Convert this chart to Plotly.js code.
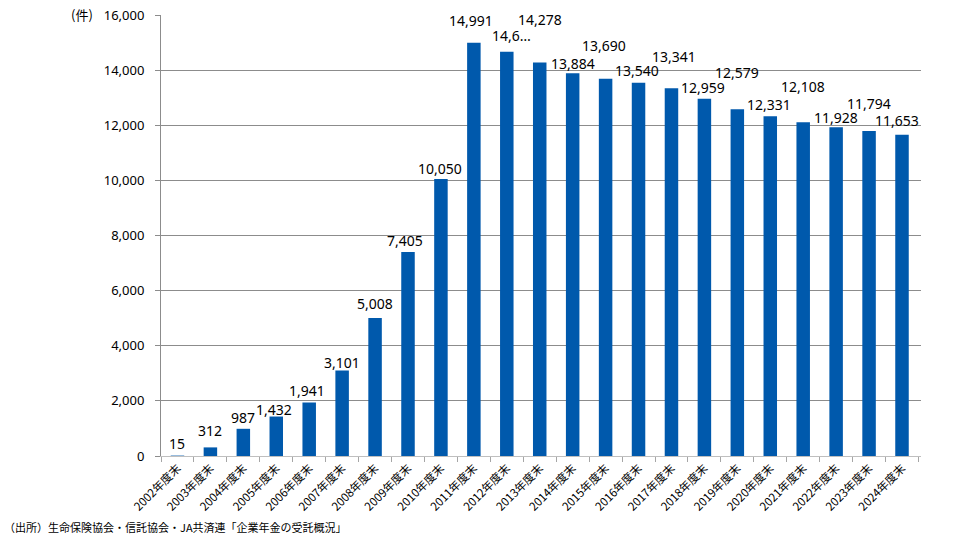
<!DOCTYPE html>
<html>
<head>
<meta charset="utf-8">
<script src="https://cdn.plot.ly/plotly-3.0.1.min.js"></script>
<style>
  html, body { margin: 0; padding: 0; background: #fff; }
  #chart { width: 953px; height: 537px; }
</style>
</head>
<body>
<div id="chart"></div>
<script>
// 年度末の件数
var years = ['2002年度末', '2003年度末', '2004年度末', '2005年度末', '2006年度末', '2007年度末',
  '2008年度末', '2009年度末', '2010年度末', '2011年度末', '2012年度末', '2013年度末',
  '2014年度末', '2015年度末', '2016年度末', '2017年度末', '2018年度末', '2019年度末',
  '2020年度末', '2021年度末', '2022年度末', '2023年度末', '2024年度末'];
var counts = [15, 312, 987, 1432, 1941, 3101, 5008, 7405, 10050, 14991, 14670, 14278,
  13884, 13690, 13540, 13341, 12959, 12579, 12331, 12108, 11928, 11794, 11653];
// the 2012 label is cut off in the original
var labelTexts = ['15', '312', '987', '1,432', '1,941', '3,101', '5,008', '7,405', '10,050',
  '14,991', '14,6…', '14,278', '13,884', '13,690', '13,540', '13,341', '12,959', '12,579',
  '12,331', '12,108', '11,928', '11,794', '11,653'];

// label placement (pixels), staggered like the original
var shiftY = [12, 17, 11, 7, 12, 8, 14, 11, 11, 22, 16, 43, 10, 33, 12, 32, 11, 37, 12, 36, 10, 27, 14];
var shiftX = [0, 0, 0, -2, -2, 0, 0, -3, -1, -3, 5, 0, 0, -2, -2, 3, -1, 0, -1, 0, 0, 0, -5];

var numFont = 'Noto Sans, Open Sans, sans-serif';
var jpFont = 'Noto Sans CJK JP, sans-serif';

var trace = {
  type: 'bar',
  x: years,
  y: counts,
  marker: { color: '#0059AC' },
  hoverinfo: 'x+y'
};

var annotations = [];
for (var i = 0; i < years.length; i++) {
  annotations.push({
    x: years[i],
    y: counts[i],
    xref: 'x',
    yref: 'y',
    text: labelTexts[i],
    showarrow: false,
    yanchor: 'middle',
    xanchor: 'center',
    yshift: shiftY[i],
    xshift: shiftX[i],
    font: { family: numFont, size: 14, color: '#000' }
  });
}

annotations.push({
  xref: 'paper', yref: 'paper', x: -0.104, y: 1.0, yshift: 1,
  xanchor: 'center', yanchor: 'middle',
  text: '(件)', showarrow: false,
  font: { family: jpFont, size: 13, color: '#000' }
});

annotations.push({
  xref: 'paper', yref: 'paper', x: -0.209, y: 0, yshift: -71,
  xanchor: 'left', yanchor: 'middle',
  text: '（出所）生命保険協会・信託協会・JA共済連「企業年金の受託概況」', showarrow: false,
  font: { family: jpFont, size: 11, color: '#000' }
});

var layout = {
  width: 953,
  height: 537,
  margin: { l: 161, r: 32, t: 15, b: 81 },
  paper_bgcolor: '#fff',
  plot_bgcolor: '#fff',
  showlegend: false,
  bargap: 0.59,
  xaxis: {
    type: 'category',
    tickangle: -45,
    ticks: 'outside',
    tickson: 'boundaries',
    ticklen: 5,
    tickcolor: '#A6A6A6',
    showline: true,
    linecolor: '#BFBFBF',
    linewidth: 1,
    showgrid: false,
    tickfont: { family: jpFont, size: 11.5, color: '#000' }
  },
  yaxis: {
    range: [0, 16000],
    dtick: 2000,
    tickformat: ',',
    ticks: 'outside',
    ticklen: 5,
    tickcolor: '#8C8C8C',
    ticklabelstandoff: 8,
    showline: true,
    linecolor: '#8C8C8C',
    linewidth: 1,
    showgrid: true,
    gridcolor: '#8C8C8C',
    gridwidth: 1,
    zeroline: false,
    tickfont: { family: numFont, size: 13, color: '#000' }
  },
  annotations: annotations
};

Plotly.newPlot('chart', [trace], layout, { displayModeBar: false, staticPlot: true });
</script>
</body>
</html>
